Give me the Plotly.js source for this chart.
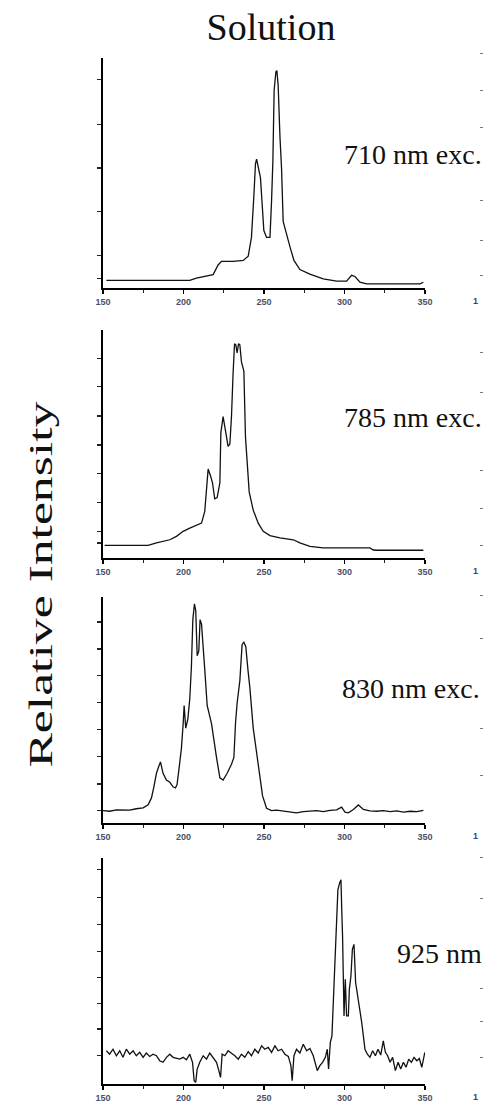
<!DOCTYPE html>
<html>
<head>
<meta charset="utf-8">
<script src="https://cdn.plot.ly/plotly-3.0.1.min.js"></script>
<style>
  html, body { margin: 0; padding: 0; background: #fff; }
  #chart { width: 483px; height: 1103px; }
</style>
</head>
<body>
<div id="chart"></div>
<script>
// Raman shift (cm-1) and relative intensity for each excitation wavelength
const shift710 = [152.1,162.4,183.2,203.9,208.0,214.3,218.4,221.5,223.6,230.8,237.1,240.2,242.2,243.7,244.7,245.4,246.4,247.8,248.9,249.9,251.6,253.7,254.7,255.5,256.3,257.4,258.0,258.8,259.9,260.9,261.9,264.0,266.1,268.6,272.3,278.5,286.8,295.1,301.3,304.4,306.5,309.6,313.8,328.3,346.9,349.0];
const int710 = [0.033,0.033,0.033,0.033,0.043,0.051,0.058,0.10,0.116,0.116,0.12,0.138,0.22,0.40,0.54,0.56,0.52,0.48,0.36,0.25,0.22,0.22,0.38,0.55,0.86,0.94,0.945,0.88,0.66,0.52,0.29,0.23,0.18,0.12,0.08,0.06,0.04,0.03,0.03,0.055,0.05,0.025,0.018,0.018,0.018,0.025];

const shift785 = [151.0,162.4,178.0,183.2,191.5,195.6,199.8,203.9,208.0,211.2,213.2,214.3,215.3,216.8,218.0,219.4,220.9,222.6,223.2,224.6,226.3,227.7,228.8,229.8,230.8,231.7,232.5,233.3,234.2,235.0,236.0,237.5,238.5,240.8,243.3,246.4,249.5,253.7,259.9,268.2,272.3,278.5,286.8,307.5,315.8,317.9,320.0,349.0];
const int785 = [0.055,0.055,0.055,0.066,0.080,0.095,0.117,0.131,0.142,0.153,0.204,0.314,0.39,0.36,0.33,0.26,0.265,0.33,0.55,0.62,0.55,0.49,0.50,0.62,0.81,0.94,0.935,0.90,0.94,0.935,0.86,0.82,0.53,0.29,0.21,0.153,0.117,0.098,0.088,0.080,0.066,0.051,0.044,0.044,0.044,0.035,0.034,0.034];

const shift830 = [150.0,154.1,158.3,162.4,166.6,170.7,174.9,178.0,180.1,181.5,
  183.2,184.6,185.7,187.3,189.4,191.5,193.5,195.0,196.0,197.3,
  198.7,199.8,200.4,201.4,202.7,203.9,204.9,205.8,206.8,207.6,
  208.5,209.5,210.3,211.2,212.2,213.4,214.7,217.4,220.5,222.6,
  224.6,227.1,229.8,231.3,232.3,233.3,235.0,236.4,237.5,238.7,
  240.0,241.2,243.3,246.4,249.1,251.6,254.7,257.8,262.0,266.1,
  270.2,274.4,278.5,282.7,286.8,291.0,295.1,298.2,300.3,302.4,
  305.5,308.6,311.7,315.8,320.0,324.1,328.3,332.4,336.6,340.7,
  344.9,349.0];
const int830 = [0.055,0.052,0.058,0.059,0.057,0.063,0.067,0.081,0.111,0.156,
  0.22,0.25,0.27,0.22,0.19,0.18,0.16,0.155,0.17,0.245,
  0.33,0.44,0.52,0.42,0.46,0.55,0.69,0.90,0.97,0.94,
  0.74,0.76,0.90,0.88,0.76,0.66,0.52,0.44,0.29,0.20,
  0.19,0.22,0.26,0.29,0.44,0.53,0.63,0.79,0.80,0.78,
  0.68,0.60,0.42,0.26,0.12,0.065,0.055,0.057,0.052,0.048,
  0.045,0.05,0.052,0.055,0.05,0.056,0.058,0.07,0.048,0.045,
  0.06,0.08,0.06,0.054,0.052,0.055,0.05,0.054,0.048,0.052,
  0.05,0.056];

const shift925 = [152.1,154.1,156.2,158.3,160.4,162.4,164.5,166.6,168.7,170.7,
  172.8,174.9,176.9,179.0,181.1,183.2,185.2,187.3,189.4,191.5,
  193.5,195.6,197.7,199.8,201.8,203.9,205.6,206.6,207.6,208.5,
  210.1,212.2,214.3,216.3,218.4,220.5,221.7,223.0,224.0,225.7,
  227.7,229.8,231.9,234.0,236.0,238.1,240.2,242.2,244.3,246.4,
  248.5,250.5,252.6,254.7,256.8,258.8,260.9,263.0,265.1,266.7,
  267.5,268.6,270.2,272.3,274.4,276.5,278.5,280.6,281.8,283.1,
  284.7,286.4,288.1,289.3,290.1,291.2,292.2,293.0,294.1,295.1,
  295.9,297.0,297.8,298.4,298.8,299.7,300.5,301.3,302.4,303.0,
  304.0,304.9,305.9,306.9,308.6,310.7,312.7,314.2,315.8,317.5,
  319.2,320.8,322.5,324.1,325.4,326.8,328.3,329.9,331.6,333.3,
  334.9,336.6,338.2,339.9,341.5,343.2,344.9,346.5,348.0,349.9];
const int925 = [0.147,0.132,0.154,0.125,0.147,0.118,0.154,0.132,0.147,0.125,
  0.14,0.118,0.137,0.122,0.132,0.125,0.103,0.096,0.118,0.132,
  0.118,0.113,0.11,0.118,0.107,0.132,0.096,0.015,0.007,0.066,
  0.096,0.125,0.11,0.137,0.118,0.096,0.066,0.029,0.132,0.125,
  0.147,0.137,0.125,0.11,0.132,0.118,0.143,0.125,0.154,0.137,
  0.169,0.154,0.162,0.14,0.169,0.147,0.154,0.132,0.122,0.081,
  0.015,0.125,0.154,0.137,0.176,0.147,0.157,0.125,0.096,0.059,
  0.081,0.096,0.118,0.154,0.066,0.184,0.213,0.36,0.507,0.662,
  0.86,0.89,0.904,0.743,0.654,0.301,0.463,0.301,0.301,0.419,
  0.478,0.596,0.618,0.449,0.375,0.272,0.154,0.132,0.118,0.147,
  0.125,0.154,0.128,0.191,0.14,0.125,0.096,0.118,0.059,0.096,
  0.066,0.096,0.074,0.11,0.096,0.118,0.103,0.113,0.074,0.14];

const shiftTicks = [150, 200, 250, 300, 350];
const shiftTickText = ['150', '200', '250', '300', '350'];
const panelLabels = ['710 nm exc.', '785 nm exc.', '830 nm exc.', '925 nm exc.'];

const W = 483, H = 1103;
const px = v => v / W;          // horizontal pixel -> paper fraction
const py = v => 1 - v / H;      // vertical pixel (from top) -> paper fraction

const xDomain = [px(103), px(425)];
const panels = [
  { x: shift710, y: int710, top: 58,  bottom: 288,  yt: [0.043,0.14,0.333,0.522,0.71,0.906], label: [342, 155] },
  { x: shift785, y: int785, top: 330, bottom: 558,  yt: [0.066,0.117,0.245,0.372,0.496,0.623,0.752,0.876], label: [342, 417] },
  { x: shift830, y: int830, top: 597, bottom: 823,  yt: [0.055,0.173,0.293,0.415,0.533,0.652,0.77,0.889], label: [340, 688] },
  { x: shift925, y: int925, top: 858, bottom: 1084, yt: [0.125,0.243,0.357,0.471,0.588,0.706,0.824,0.949], label: [395, 953] }
];

const serif = 'Times New Roman';
const sans = 'Liberation Sans';
const traces = [];
const layout = {
  width: W, height: H,
  margin: { l: 0, r: 0, t: 0, b: 0 },
  paper_bgcolor: '#ffffff',
  plot_bgcolor: 'rgba(0,0,0,0)',
  showlegend: false,
  title: {
    text: 'Solution',
    font: { family: serif, size: 38, color: '#111' },
    x: px(271), xanchor: 'center', xref: 'paper',
    y: py(27), yanchor: 'middle', yref: 'container'
  },
  annotations: []
};

panels.forEach((p, i) => {
  const n = i === 0 ? '' : String(i + 1);
  traces.push({
    type: 'scatter', mode: 'lines',
    x: p.x, y: p.y,
    xaxis: 'x' + n, yaxis: 'y' + n,
    line: { color: '#111', width: 1.3 },
    hoverinfo: 'skip'
  });
  layout['xaxis' + n] = {
    domain: xDomain, anchor: 'y' + n,
    range: [150, 350],
    tickmode: 'array', tickvals: shiftTicks, ticktext: shiftTickText,
    ticks: 'outside', ticklen: 4, tickwidth: 1.3, tickcolor: '#000',
    minor: { tickvals: [175, 225, 275, 325], ticks: 'outside', ticklen: 3, tickwidth: 1.2, tickcolor: '#222' },
    tickfont: { family: sans, size: 9, color: '#4a5068', weight: 'bold' },
    ticklabelstandoff: 1,
    showline: true, linecolor: '#000', linewidth: 1.6,
    showgrid: false, zeroline: false, fixedrange: true
  };
  layout['yaxis' + n] = {
    domain: [py(p.bottom), py(p.top)], anchor: 'x' + n,
    range: [0, 1],
    tickmode: 'array', tickvals: p.yt,
    ticks: 'outside', ticklen: 4, tickwidth: 1.2, tickcolor: '#222',
    showticklabels: false,
    showline: true, linecolor: '#000', linewidth: 1.6,
    showgrid: false, zeroline: false, fixedrange: true
  };
  layout.annotations.push({
    text: panelLabels[i], xref: 'paper', yref: 'paper',
    x: px(p.label[0]), y: py(p.label[1]),
    xanchor: 'left', yanchor: 'middle', showarrow: false,
    font: { family: serif, size: 28, color: '#111' }
  });
  // leading digit of the neighbouring column's first tick label at the right edge
  layout.annotations.push({
    text: '1', xref: 'paper', yref: 'paper',
    x: px(471), y: py(p.bottom + 13),
    xanchor: 'left', yanchor: 'middle', showarrow: false,
    font: { family: sans, size: 9, color: '#2c3f8c', weight: 'bold' }
  });
});

// shared vertical label
layout.annotations.push({
  text: 'Relative Intensity', xref: 'paper', yref: 'paper',
  x: px(40), y: py(585), xanchor: 'center', yanchor: 'middle',
  textangle: -90, showarrow: false,
  font: { family: serif, size: 34, color: '#111' }
});

// tick marks of the neighbouring column's intensity axes at the right edge
traces.push({ type: 'scatter', x: [], y: [], xaxis: 'x', yaxis: 'y5', hoverinfo: 'skip' });
layout.yaxis5 = {
  domain: [0, 1], anchor: 'free', position: 1, side: 'left',
  range: [H, 0],
  tickmode: 'array',
  tickvals: [53, 90, 127, 200, 240, 275, 352, 392, 470, 508, 545, 595, 638, 728, 775, 857, 898, 988, 1021, 1057],
  ticks: 'outside', ticklen: 3, tickwidth: 1, tickcolor: '#777',
  showticklabels: false, showline: false, showgrid: false, zeroline: false, fixedrange: true
};

Plotly.newPlot('chart', traces, layout, { displayModeBar: false, staticPlot: true }).then(gd => {
  // stretch the axis caption along its baseline to the full column height
  gd.querySelectorAll('.annotation-text').forEach(t => {
    if (t.textContent === 'Relative Intensity') {
      t.setAttribute('textLength', '366');
      t.setAttribute('lengthAdjust', 'spacingAndGlyphs');
    }
  });
});
</script>
</body>
</html>
